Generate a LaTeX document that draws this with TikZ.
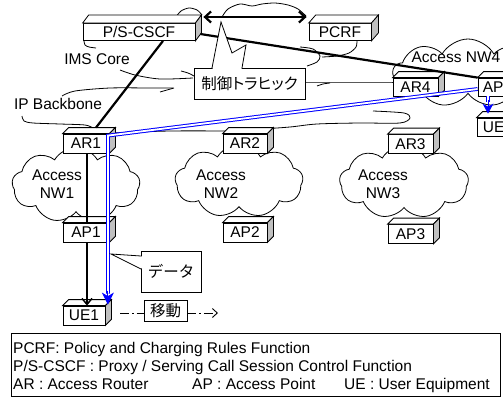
\documentclass[tikz,border=0pt]{standalone}
\usepackage{fontspec}
\setmainfont{Liberation Sans}
\newfontfamily\jp{Noto Sans CJK JP}
\newfontfamily\jpp[RawFeature=+palt]{Noto Sans CJK JP}
\usetikzlibrary{shapes.symbols,arrows.meta}
\definecolor{sidegray}{RGB}{192,192,192}
\definecolor{linkblue}{RGB}{0,0,255}
\newcommand\boxfaces[3]{%
  \draw[boxline, fill=white] (#1.north west) -- ++(#2,-#3) -- ([shift={(#2,-#3)}]#1.north east) -- (#1.north east) -- cycle;
  \draw[boxline, fill=sidegray] (#1.north east) -- ++(#2,-#3) -- ([shift={(#2,-#3)}]#1.south east) -- (#1.south east) -- cycle;}
\begin{document}
\begin{tikzpicture}[x=1pt,y=-1pt,
  every node/.style={font=\fontsize{15.5}{18}\selectfont},
  boxline/.style={draw, line width=0.8pt, line join=miter},
  box/.style={boxline, fill=white, inner sep=0pt, minimum height=18pt},
  nwcloud/.style={cloud, cloud puffs=9, cloud puff arc=120, draw, line width=0.8pt, fill=white, inner sep=0pt, aspect=1.7},
  frag/.style={line width=0.8pt},
  thickline/.style={line width=2.2pt},
  bluedouble/.style={draw=linkblue, line width=1pt, double=white, double distance=1.8pt},
  mvline/.style={line width=0.9pt, dash pattern=on 9pt off 3pt on 1.5pt off 3pt},
  callout/.style={draw, line width=0.8pt, fill=white, inner sep=0pt}]
\useasboundingbox (0,0) rectangle (503,396);
\clip (0,0) rectangle (503,396);

% ---- IMS Core / IP Backbone cloud outlines (fragments) ----
\draw[frag] plot[smooth] coordinates {(176,17) (181,11) (189,8) (197,10) (202,15)};
\draw[frag] plot[smooth] coordinates {(222,17) (228,9) (240,4) (252,6) (262,4) (275,3) (288,5) (298,9) (306,16)};
\draw[frag] plot[smooth] coordinates {(84,41) (85,45) (89,47) (96,48)};
\draw[frag] plot[smooth] coordinates {(120,70) (135,75) (160,79) (193,78)};
\draw[frag] plot[smooth] coordinates {(181,71) (188,73) (194,76)};
\draw[frag] plot[smooth] coordinates {(62,96) (75,91) (110,88) (150,88) (173,88)};
\draw[frag] plot[smooth] coordinates {(160,92) (167,90) (174,88)};
\draw[frag] plot[smooth] coordinates {(357,40) (356,47) (349,53) (337,56) (322,57)};
\draw[frag] plot[smooth] coordinates {(300,47) (313,49) (320,56) (317,62) (307,66)};
\draw[frag] plot[smooth] coordinates {(305,82) (330,82) (360,82) (393,82)};
\draw[frag] plot[smooth] coordinates {(317,86) (323,84) (330,83)};
\draw[frag] plot[smooth] coordinates {(22,116) (24,121) (33,123) (60,124) (85,125) (93,128)};
\draw[frag] plot[smooth] coordinates {(110,133) (170,131) (227,131)};
\draw[frag] plot[smooth] coordinates {(227,130) (260,129) (290,127) (317,124) (360,123) (400,123) (410,118) (404,113) (373,111)};

% ---- access network clouds ----
\node[nwcloud, minimum width=128pt, minimum height=75pt] (nw1) at (76,185) {};
\node[nwcloud, minimum width=128pt, minimum height=73pt] (nw2) at (239,181) {};
\node[nwcloud, minimum width=129pt, minimum height=73pt] (nw3) at (404,182) {};
\node[nwcloud, minimum width=150pt, minimum height=68pt] (nw4) at (468,73) {};

% ---- boxes ----
\node[box, minimum width=112pt, minimum height=17pt] (pscscf) at (139,32) {P/S-CSCF};
\node[box, minimum width=62pt, minimum height=17pt] (pcrf) at (340,32) {PCRF};
\node[box, minimum width=45pt] (ar4) at (415.5,87) {AR4};
\node[box, minimum width=39pt] (ap4) at (497.5,87) {AP4};
\node[box, minimum width=42pt] (ue4) at (498,127) {UE4};
\node[box, minimum width=46pt, minimum height=19pt] (ar1) at (86,143.5) {AR1};
\node[box, minimum width=44pt, minimum height=19pt] (ar2) at (245,143.5) {AR2};
\node[box, minimum width=45pt, minimum height=19pt] (ar3) at (410.5,144) {AR3};
\node[box, minimum width=46pt, minimum height=19pt] (ap1) at (86,232.5) {AP1};
\node[box, minimum width=44pt, minimum height=19pt] (ap2) at (245,232.5) {AP2};
\node[box, minimum width=45pt, minimum height=19pt] (ap3) at (410.5,234) {AP3};
\node[box, minimum width=42pt, minimum height=19pt] (ue1) at (84,315.5) {UE1};
\boxfaces{pscscf}{6}{8}
\boxfaces{pcrf}{7}{8}
\foreach \n in {ar4,ap4,ue4,ar1,ar2,ar3,ap1,ap2,ap3,ue1}{\boxfaces{\n}{6}{6}}

% ---- cloud labels ----
\node[align=center] (nw1t) at (57,184) {Access\\NW1};
\node[align=center] (nw2t) at (221,184) {Access\\NW2};
\node[align=center] (nw3t) at (383,184) {Access\\NW3};
\node (nw4t) at (456,57) {Access NW4};
\node (imst) at (97,59) {IMS Core};
\node (ipt) at (58,104) {IP Backbone};

% ---- control connections ----
\draw[thickline, {Straight Barb[length=6pt,width=11pt]}-{Straight Barb[length=6pt,width=11pt]}]
  ([shift={(8,-15)}]pscscf.east) -- ([shift={(-2,-15)}]pcrf.west);
\draw[thickline] ([shift={(5,2)}]pscscf.east) -- (ap4.north west);
\draw[thickline] ([xshift=24]pscscf.south) -- ([shift={(10,-6)}]ar1.north);

% ---- data path (black) ----
\draw[line width=1.5pt] ([xshift=1]ar1.south) -- ([xshift=1]ap1.north);
\draw[line width=1.5pt, -{Straight Barb[length=6pt,width=10pt]}] ([xshift=1]ap1.south) -- ([xshift=1]ap1.south |- ue1.north);

% ---- data path (blue double) ----
\coordinate (bcorner) at ([shift={(-1.5,2)}]ar1.north east);
\coordinate (bstop) at ([shift={(0,-12)}]bcorner |- ue1.north);
\coordinate (btip) at ([shift={(0,-1)}]bcorner |- ue1.north);
\draw[bluedouble, line join=miter] ([shift={(0,2)}]ap4.west) -- (bcorner) -- (bstop);
\draw[linkblue, line width=1pt, -{Stealth[length=12pt,width=12pt,inset=3.5pt]}] ([shift={(0,-3)}]bstop) -- (btip);
\coordinate (b4start) at ([xshift=-9.5]ap4.south);
\coordinate (b4stop) at ([shift={(0,6)}]b4start);
\coordinate (b4tip) at ([shift={(0,-4)}]b4start |- ue4.north);
\draw[bluedouble] (b4start) -- (b4stop);
\draw[linkblue, line width=1pt, -{Stealth[length=10pt,width=11pt,inset=3pt]}] ([shift={(0,-2)}]b4stop) -- (b4tip);

% ---- callouts ----
\node[callout, minimum width=111pt, minimum height=31pt] (ctl) at (249.5,83.5) {\jpp 制御トラヒック};
\fill[white] (212.5,69) -- (221,22) -- (232,53) -- (246,45) -- (241.5,69) -- cycle;
\draw[line width=0.8pt, line join=miter] (212,68) -- (221,22) -- (232,53) -- (246,45) -- (242,68);
\node[callout, minimum width=60pt, minimum height=41pt] (data) at (171,271.5) {\jp データ};
\fill[white] (142,256.5) -- (111,254) -- (142,268.5) -- cycle;
\draw[line width=0.8pt, line join=miter] (141,256) -- (111,254) -- (141,269);

% ---- movement ----
\node[callout, minimum width=43pt, minimum height=21pt] (move) at (165.5,311) {\jp 移動};
\coordinate (mvstart) at (120,313);
\coordinate (mvend) at (218,313);
\draw[mvline] (mvstart) -- (move.west |- mvstart);
\draw[mvline, -{Straight Barb[length=5pt,width=9pt]}] (move.east |- mvend) -- (mvend);

% ---- legend ----
\node[draw, line width=0.8pt, minimum width=489pt, minimum height=63pt, anchor=north west, inner sep=0pt] (legend) at (11,333) {};
\node[anchor=base west, inner sep=0pt] (l1) at (13,353) {PCRF: Policy and Charging Rules Function};
\node[anchor=base west, inner sep=0pt] (l2) at (13,371) {P/S-CSCF : Proxy / Serving Call Session Control Function};
\node[anchor=base west, inner sep=0pt] (l3a) at (13,389) {AR : Access Router};
\node[anchor=base west, inner sep=0pt] (l3b) at (192,389) {AP : Access Point};
\node[anchor=base west, inner sep=0pt] (l3c) at (344,389) {UE : User Equipment};
\end{tikzpicture}
\end{document}
